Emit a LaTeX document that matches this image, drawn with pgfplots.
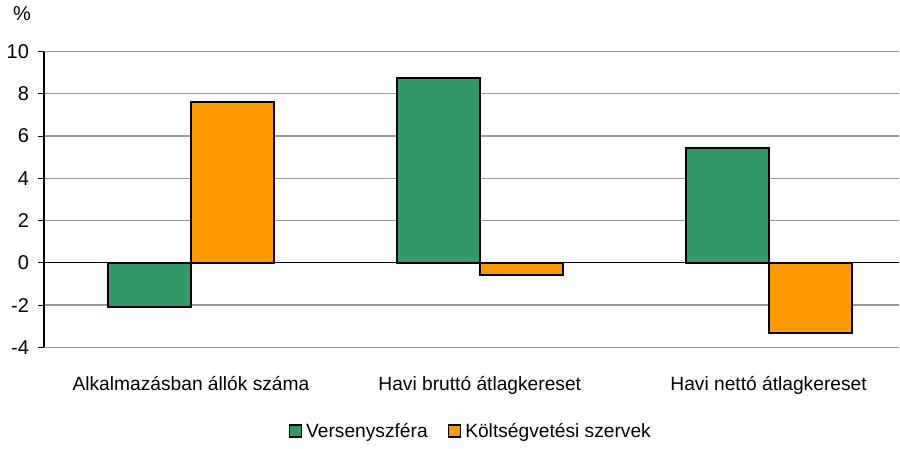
\documentclass[border=0pt]{standalone}
\usepackage{pgfplots}
\pgfplotsset{compat=1.18}
\usepackage{fontspec}
\setmainfont{Liberation Sans}
\definecolor{verseny}{HTML}{339966}
\definecolor{koltseg}{HTML}{FF9900}
\begin{document}
\fontsize{10pt}{12pt}\selectfont
\begin{tikzpicture}
\begin{axis}[
    name=ax,
    at={(0,0)}, anchor=south west,
    scale only axis,
    width=428pt, height=148pt,
    ybar=0pt, bar width=41.5pt,
    xmin=-0.509, xmax=2.453,
    ymin=-4, ymax=10,
    ytick={-4,-2,0,2,4,6,8,10},
    xtick={0,1,2},
    xticklabels={Alkalmazásban állók száma, Havi bruttó átlagkereset, Havi nettó átlagkereset},
    xtick style={draw=none},
    x tick label style={yshift=-8pt, font=\fontsize{9.6pt}{12pt}\selectfont},
    y tick label style={xshift=-1pt},
    tick align=outside,
    major tick length=3pt,
    ytick style={black, line width=0.5pt},
    axis lines*=left,
    x axis line style={draw=none},
    y axis line style={black, line width=0.6pt, -},
    ymajorgrids, grid style={gray!80, line width=0.6pt},
    /pgf/number format/assume math mode=true,
    tick label style={font=\fontsize{10pt}{12pt}\selectfont},
    legend style={at={(0.5,-0.285)}, anchor=center, legend columns=2, draw=none,
        font=\fontsize{9.6pt}{12pt}\selectfont,
        /tikz/every even column/.append style={column sep=8pt}},
    legend image code/.code={\draw[#1, draw=black, line width=0.8pt] (0pt,-2.8pt) rectangle (6pt,3.2pt);},
    clip=false,
]
\addplot[fill=verseny, draw=black, line width=1pt] coordinates {(0,-2.1) (1,8.77) (2,5.45)};
\addplot[fill=koltseg, draw=black, line width=1pt] coordinates {(0,7.62) (1,-0.58) (2,-3.32)};
\draw[black, line width=0.6pt] (axis cs:-0.509,0) -- (axis cs:2.453,0);
\legend{Versenyszféra, Költségvetési szervek}
\end{axis}
\node[anchor=base west] at ([xshift=-19pt, yshift=15.5pt]ax.north west) {\%};
\path (ax.south west) ++(-22pt,-48pt) rectangle ([yshift=25.5pt]ax.north east);
\end{tikzpicture}
\end{document}
